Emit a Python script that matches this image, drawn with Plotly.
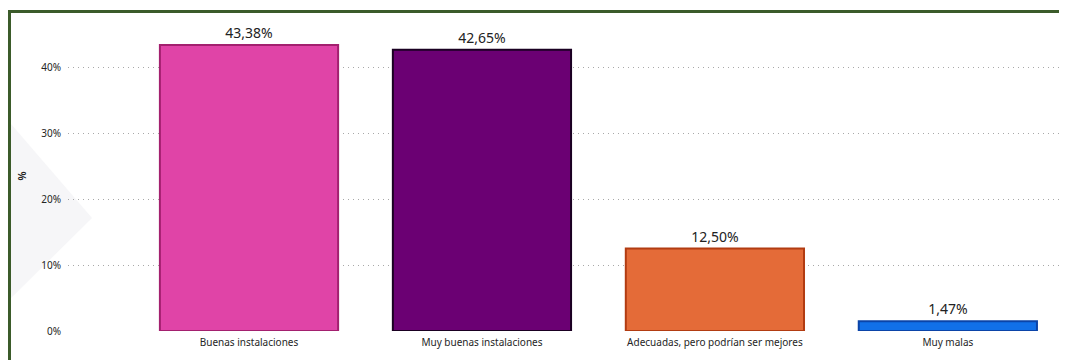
import plotly.graph_objects as go

categories = ["Buenas instalaciones", "Muy buenas instalaciones",
              "Adecuadas, pero podrían ser mejores", "Muy malas"]
values = [43.38, 42.65, 12.50, 1.47]
fill_colors = ["#E044A7", "#6B0073", "#E46B38", "#1170E8"]
line_colors = ["#A3206F", "#1A0022", "#B23C12", "#0B44A8"]
y_ticks = [0, 10, 20, 30, 40]
y_tick_labels = ["0%", "10%", "20%", "30%", "40%"]

labels = [f"{v:.2f}".replace(".", ",") + "%" for v in values]

# page offset from default body margin
OFF = 8
PW, PH = 1067, 360
W, H = PW - OFF, PH - OFF
# plot area in page coordinates
PX0, PX1, PY0, PY1 = 68, 1062, 21, 331
L = PX0 - OFF
R = PW - PX1
T = PY0 - OFF
B = PH - PY1
pw = PX1 - PX0
ph = PY1 - PY0

def px(x):
    return (x - PX0) / pw

def py(y):
    return (PY1 - y) / ph

fig = go.Figure()
fig.add_trace(go.Bar(
    x=list(range(len(categories))), y=values,
    width=0.765,
    marker=dict(color=fill_colors, line=dict(color=line_colors, width=2)),
    text=labels, textposition="outside", cliponaxis=False,
    textfont=dict(size=14, color="#222222", family="Noto Sans"),
    hoverinfo="skip",
))

fig.update_layout(
    width=W, height=H,
    margin=dict(l=L, r=R, t=T, b=B),
    paper_bgcolor="white", plot_bgcolor="white",
    showlegend=False,
    font=dict(family="Noto Sans", color="#252525"),
    xaxis=dict(
        range=[-0.777, 3.49],
        tickvals=list(range(len(categories))), ticktext=categories,
        tickfont=dict(size=10, color="#252525"),
        showgrid=False, zeroline=False, showline=False, ticks="",
        ticklabelstandoff=4,
    ),
    yaxis=dict(
        range=[0, 47],
        tickvals=y_ticks, ticktext=y_tick_labels,
        tickfont=dict(size=10, color="#252525"),
        showgrid=True, gridcolor="#a8a8a8", griddash="1px,4px", gridwidth=1,
        zeroline=False, showline=False, ticks="", ticklabelstandoff=6,
        title=dict(text="<b>%</b>", font=dict(size=10, color="#252525"), standoff=12),
    ),
    shapes=[
        dict(type="path", xref="paper", yref="paper", layer="below",
             path=f"M {px(11)} {py(124)} L {px(92)} {py(218)} L {px(11)} {py(298)} Z",
             fillcolor="#f6f6f8", line=dict(width=0)),
        dict(type="rect", xref="paper", yref="paper",
             x0=px(9.5), x1=px(1062), y0=py(400), y1=py(11.5),
             line=dict(color="#3B5B2A", width=3), fillcolor="rgba(0,0,0,0)"),
    ],
)

fig.write_html("out.html")
